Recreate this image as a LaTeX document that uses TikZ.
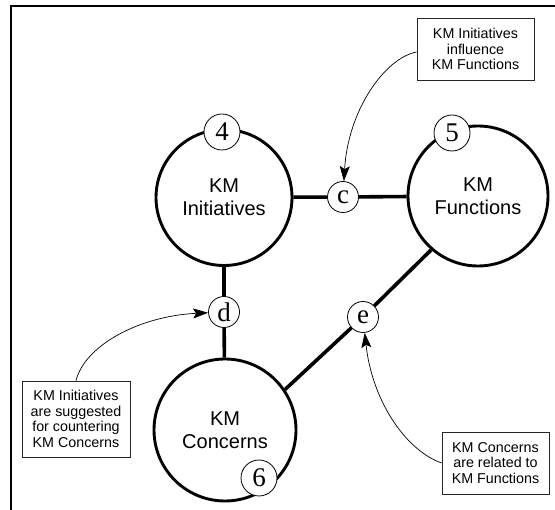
\documentclass[tikz,border=0pt]{standalone}
\usepackage{fontspec}
\setmainfont{Liberation Sans}
\newfontfamily\numfont{Liberation Serif}
\usetikzlibrary{arrows.meta}

\begin{document}
\begin{tikzpicture}[x=1pt,y=-1pt,
  topic/.style={circle, draw, line width=2.9pt, minimum size=#1, inner sep=0pt,
    align=center, font=\fontsize{20}{23}\selectfont},
  badge/.style={circle, draw, line width=0.8pt, fill=white, minimum size=#1,
    inner sep=0pt, font=\numfont\fontsize{27}{27}\selectfont},
  link/.style={line width=3.6pt},
  note/.style={draw=black!85, line width=0.8pt, fill=white, align=center,
    inner sep=0pt, font=\fontsize{14.3}{15.5}\selectfont},
  callout/.style={line width=0.7pt, -{Stealth[length=15pt,width=10pt,inset=3pt]}}
]
\useasboundingbox (0,0) rectangle (555,510);

% frame edges
\draw[line width=2pt] (10.5,510) -- (10.5,6) -- (555,6);

% the three topic circles
\node[topic=136] (ini) at (224,197.5) {KM\\Initiatives};
\node[topic=140] (fun) at (478,196) {KM\\Functions};
\node[topic=142] (con) at (225,430) {KM\\Concerns};

% relation points
\node[badge=31] (c) at (343,197) {c};
\node[badge=31] (d) at (224,312) {d};
\node[badge=31] (e) at (363,317) {e};

% relation links
\draw[link] (ini) -- (c);
\draw[link] (c) -- (fun);
\draw[link] (ini) -- (d);
\draw[link] (d) -- (con);
\draw[link] (fun.229) -- (e);
\draw[link] (e) -- (con.34);

% numbered badges
\node[badge=36] (n4) at (222,132) {4};
\node[badge=36] (n5) at (452,133) {5};
\node[badge=36] (n6) at (259,478) {6};

% explanatory notes
\node[note, minimum width=117pt, minimum height=62pt] (tc) at (475.5,49)
  {KM Initiatives\\influence\\KM Functions};
\node[note, minimum width=108pt, minimum height=76pt] (td) at (76,419)
  {KM Initiatives\\are suggested\\for countering\\KM Concerns};
\node[note, minimum width=107pt, minimum height=62pt] (te) at (495.5,463)
  {KM Concerns\\are related to\\KM Functions};

% callout arrows
\draw[callout] (tc.west |- 0,52) .. controls (385,58) and (348,110) .. (c);
\draw[callout] (td.north) .. controls (85,345) and (140,316) .. (d);
\draw[callout] (te.west) .. controls (405,450) and (372,400) .. (e);
\end{tikzpicture}
\end{document}
